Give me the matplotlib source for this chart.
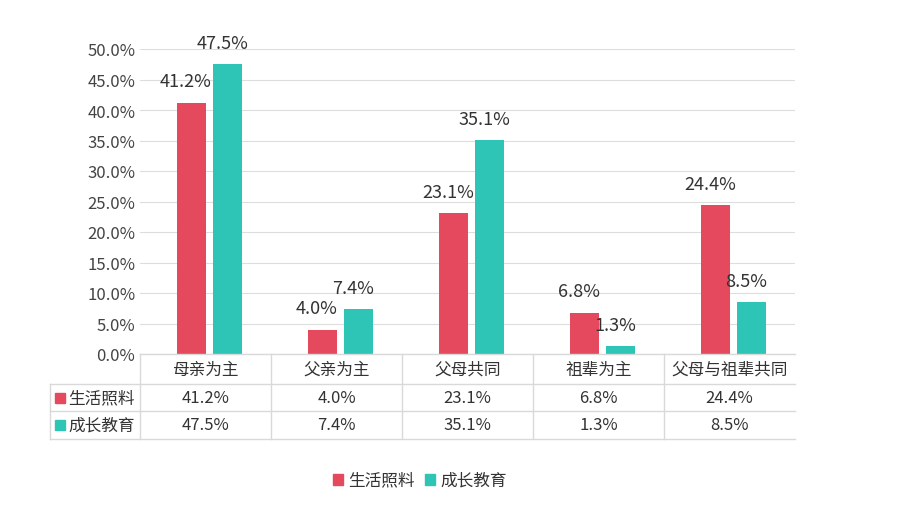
import numpy as np
import matplotlib
matplotlib.use("Agg")
import matplotlib.pyplot as plt
from matplotlib.transforms import Bbox
from matplotlib.patches import Rectangle

plt.rcParams["font.family"] = ["Noto Sans CJK SC", "DejaVu Sans"]

categories = ["母亲为主", "父亲为主", "父母共同", "祖辈为主", "父母与祖辈共同"]
series_names = ["生活照料", "成长教育"]
life_care = [41.2, 4.0, 23.1, 6.8, 24.4]
growth_edu = [47.5, 7.4, 35.1, 1.3, 8.5]
colors = ["#E5495E", "#2EC4B6"]

W, H = 905, 506
fig = plt.figure(figsize=(W / 100, H / 100), dpi=100)
L, R, T, B = 140, 795, 50, 355
ax = fig.add_axes([L / W, 1 - B / H, (R - L) / W, (B - T) / H])

x = np.arange(len(categories))
bw = 0.22
offs = [-0.11, 0.17]
for vals, c, d in zip([life_care, growth_edu], colors, offs):
    ax.bar(x + d, vals, width=bw, color=c, zorder=3)
    for xi, v in zip(x, vals):
        ax.text(xi + d - 0.04, v + 2.0, f"{v:.1f}%", ha="center", va="bottom",
                fontsize=13, color="#333333", zorder=4)

ax.set_xlim(-0.5, len(categories) - 0.5)
ax.set_ylim(0, 50)
ax.set_yticks(np.arange(0, 51, 5))
ax.set_yticklabels([f"{v:.1f}%" for v in np.arange(0, 51, 5)], fontsize=12, color="#444444")
ax.set_xticks([])
ax.grid(axis="y", color="#dddddd", linewidth=0.8, zorder=0)
for s in ax.spines.values():
    s.set_visible(False)
ax.tick_params(axis="y", length=0)

# data table below the axes
grid_c = "#d9d9d9"
def fy(py):
    return 1 - py / H
def fx(px):
    return px / W

rows_y = [355, 385, 412, 440]
for py in rows_y[1:]:
    fig.add_artist(plt.Line2D([fx(50), fx(R)], [fy(py), fy(py)], color=grid_c, lw=1))
fig.add_artist(plt.Line2D([fx(L), fx(R)], [fy(355), fy(355)], color=grid_c, lw=1))
col_x = [L + i * (R - L) / 5 for i in range(6)]
for px in col_x[:-1]:
    fig.add_artist(plt.Line2D([fx(px), fx(px)], [fy(355), fy(440)], color=grid_c, lw=1))
fig.add_artist(plt.Line2D([fx(50), fx(50)], [fy(385), fy(440)], color=grid_c, lw=1))

clip = Bbox.from_extents(0, 0, R, H)
for i, cat in enumerate(categories):
    cx = fx((col_x[i] + col_x[i + 1]) / 2)
    t = fig.text(cx, fy(370), cat, ha="center", va="center", fontsize=12, color="#333333")
    t.set_clip_box(clip)
    t.set_clip_on(True)
    for r, vals in enumerate([life_care, growth_edu]):
        fig.text(cx, fy((rows_y[r + 1] + rows_y[r + 2]) / 2), f"{vals[i]:.1f}%",
                 ha="center", va="center", fontsize=12, color="#333333")
for r, (name, c) in enumerate(zip(series_names, colors)):
    yc = (rows_y[r + 1] + rows_y[r + 2]) / 2
    fig.add_artist(Rectangle((fx(55), fy(yc + 5)), 10 / W, 10 / H, color=c))
    fig.text(fx(68), fy(yc), name, ha="left", va="center", fontsize=12, color="#333333")

# legend
lx = 333
for name, c in zip(series_names, colors):
    fig.add_artist(Rectangle((fx(lx), fy(486)), 10 / W, 11 / H, color=c))
    fig.text(fx(lx + 15), fy(481), name, ha="left", va="center", fontsize=12, color="#333333")
    lx += 92

fig.savefig("out.png", dpi=100)
